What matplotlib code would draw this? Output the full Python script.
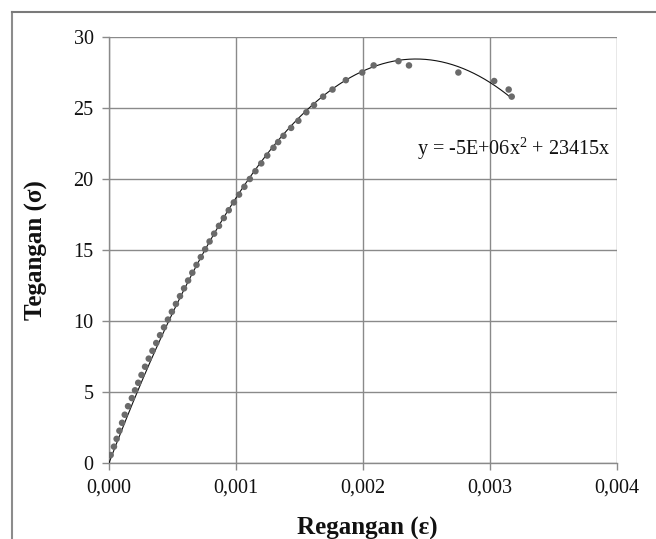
import numpy as np
import matplotlib
matplotlib.use("Agg")
import matplotlib.pyplot as plt
from matplotlib.lines import Line2D
from matplotlib.ticker import FuncFormatter

plt.rcParams['font.family'] = ['Liberation Serif', 'DejaVu Serif']
plt.rcParams['mathtext.fontset'] = 'custom'
plt.rcParams['mathtext.rm'] = 'Liberation Serif'
plt.rcParams['mathtext.it'] = 'Liberation Serif:italic'

# Data (strain, stress)
strain = [0.000013, 0.000039, 0.000060, 0.000082, 0.000103, 0.000124, 0.000150,
          0.000180, 0.000205, 0.000230, 0.000256, 0.000284, 0.000313, 0.000342,
          0.000372, 0.000402, 0.000433, 0.000464, 0.000495, 0.000527, 0.000559,
          0.000591, 0.000623, 0.000656, 0.000689, 0.000723, 0.000757, 0.000792,
          0.000828, 0.000866, 0.000904, 0.000943, 0.000983, 0.001024, 0.001066,
          0.001109, 0.001153, 0.001199, 0.001246, 0.001295, 0.001332, 0.001374,
          0.001434, 0.001491, 0.001554, 0.001614, 0.001686, 0.001760, 0.001865,
          0.001994, 0.002084, 0.002279, 0.002362, 0.002751, 0.003033, 0.003147,
          0.003171]
stress = [0.56, 1.15, 1.70, 2.27, 2.83, 3.40, 4.00, 4.57, 5.12, 5.65, 6.20, 6.78,
          7.35, 7.90, 8.45, 9.00, 9.55, 10.10, 10.65, 11.20, 11.75, 12.30, 12.85,
          13.40, 13.95, 14.50, 15.05, 15.60, 16.15, 16.70, 17.25, 17.80, 18.35,
          18.90, 19.45, 20.00, 20.55, 21.10, 21.65, 22.20, 22.60, 23.04, 23.60,
          24.10, 24.70, 25.20, 25.80, 26.30, 26.96, 27.50, 28.00, 28.30, 28.00,
          27.50, 26.90, 26.30, 25.80]

x_ticks = [0.0, 0.001, 0.002, 0.003, 0.004]
y_ticks = [0, 5, 10, 15, 20, 25, 30]
equation_label = r'y = -5E+06x$^{\mathrm{2}}$ + 23415x'
x_label = 'Regangan (ε)'
y_label = 'Tegangan (σ)'

W, H = 656, 539
fig = plt.figure(figsize=(W / 100, H / 100), dpi=100)
ax = fig.add_axes([109 / W, 1 - 463 / H, (617 - 109) / W, (463 - 37) / H])

grid_c = '#8a8a8a'
ax.set_xlim(0, 0.004)
ax.set_ylim(0, 30)
ax.set_xticks(x_ticks)
ax.set_yticks(y_ticks)
ax.xaxis.set_major_formatter(FuncFormatter(lambda v, p: f"{v:.3f}".replace('.', ',')))
ax.grid(True, color=grid_c, linewidth=1.0)
ax.set_axisbelow(True)
for s in ['top', 'right']:
    ax.spines[s].set_visible(False)
for s in ['left', 'bottom']:
    ax.spines[s].set_color(grid_c)
    ax.spines[s].set_linewidth(1.0)
ax.tick_params(axis='both', direction='out', length=5, width=1.0, color=grid_c,
               labelsize=14.5, pad=6, labelcolor='#111111')

# Polynomial trend line through origin, fitted to the data
xs = np.asarray(strain)
ys = np.asarray(stress)
A = np.column_stack([xs ** 2, xs])
coef, *_ = np.linalg.lstsq(A, ys, rcond=None)
xf = np.linspace(0, xs.max(), 300)
ax.plot(xf, coef[0] * xf ** 2 + coef[1] * xf, color='#111111', linewidth=0.8, zorder=3)

ax.scatter(strain, stress, s=22, color='#6a6a6a', edgecolors='none', zorder=4)

fig.text(417 / W, 1 - 155 / H, equation_label, fontsize=14.5, ha='left',
         va='baseline', color='#111111')
fig.text(367 / W, 1 - 528 / H, x_label, fontsize=18, fontweight='bold',
         ha='center', va='center', color='#111111')
fig.text(36 / W, 1 - 250 / H, y_label, fontsize=18, fontweight='bold',
         ha='center', va='center', rotation=90, color='#111111')

# outer frame lines (left and top) of the chart area
fig.add_artist(Line2D([12 / W, 12 / W], [0, 1 - 12 / H], transform=fig.transFigure,
                      color='#8c8c8c', linewidth=1.5))
fig.add_artist(Line2D([12 / W, 1], [1 - 12 / H, 1 - 12 / H], transform=fig.transFigure,
                      color='#7a7a7a', linewidth=1.5))

fig.savefig('out.png', dpi=100)
